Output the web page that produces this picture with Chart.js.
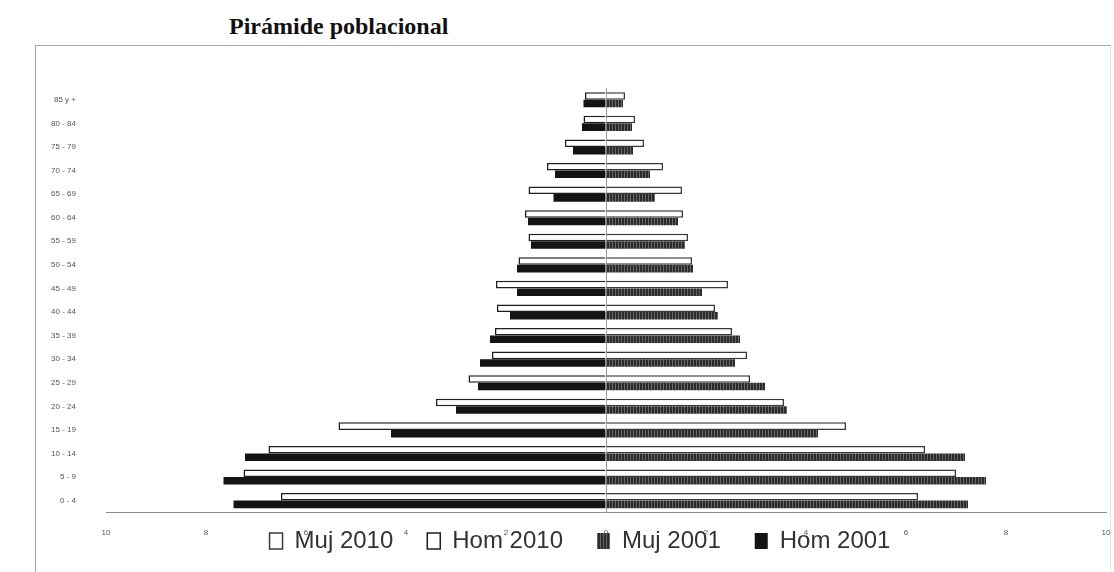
<!DOCTYPE html>
<html lang="es">
<head>
<meta charset="utf-8">
<title>Pirámide poblacional</title>
<script src="https://cdn.jsdelivr.net/npm/chart.js@4.4.1/dist/chart.umd.min.js"></script>
<style>
    html, body { margin: 0; padding: 0; background: #fff; }
    .page { position: relative; width: 1114px; height: 572px; overflow: hidden; }
    .frame {
        position: absolute; left: 35px; top: 45px; width: 1074px; height: 540px;
        border-left: 1px solid #a8a8a8; border-top: 1px solid #a8a8a8; border-right: 1px solid #e4e4e4;
    }
    .title {
        position: absolute; left: 229px; top: 13px;
        font: bold 24px "Liberation Serif", serif; color: #111;
    }
    #pyramidChart { position: absolute; left: 0; top: 0; }
</style>
</head>
<body>
<div class="page">
    <div class="frame"></div>
    <div class="title">Pirámide poblacional</div>
    <canvas id="pyramidChart" width="1114" height="572"></canvas>
</div>

<script>
// === DATOS (porcentaje de población por grupo de edad) ===
const grupos = ["0 - 4", "5 - 9", "10 - 14", "15 - 19", "20 - 24", "25 - 29", "30 - 34", "35 - 39", "40 - 44",
                "45 - 49", "50 - 54", "55 - 59", "60 - 64", "65 - 69", "70 - 74", "75 - 79", "80 - 84", "85 y +"];

// hombres van en negativo (lado izquierdo)
const hom2010 = [-6.5, -7.25, -6.75, -5.35, -3.4, -2.75, -2.28, -2.22, -2.18, -2.2, -1.75, -1.55, -1.62, -1.55, -1.18, -0.82, -0.45, -0.42];
const hom2001 = [-7.45, -7.65, -7.22, -4.3, -3.0, -2.56, -2.52, -2.32, -1.92, -1.78, -1.78, -1.5, -1.56, -1.05, -1.02, -0.66, -0.48, -0.45];
const muj2010 = [6.24, 7.0, 6.38, 4.8, 3.56, 2.88, 2.82, 2.52, 2.18, 2.44, 1.72, 1.64, 1.54, 1.52, 1.14, 0.76, 0.58, 0.38];
const muj2001 = [7.24, 7.6, 7.18, 4.24, 3.62, 3.18, 2.58, 2.68, 2.24, 1.92, 1.74, 1.58, 1.44, 0.98, 0.88, 0.54, 0.52, 0.34];

const ejeMin = -10;
const ejeMax = 10;
const ejePaso = 2;

let chartInstance = null;

document.addEventListener("DOMContentLoaded", () => {
    renderPyramid();
});

// trama rayada para Muj 2001
function makeHatch(ctx) {
    const c = document.createElement("canvas");
    c.width = 3; c.height = 3;
    const g = c.getContext("2d");
    g.fillStyle = "#2c2c2c";
    g.fillRect(0, 0, 3, 3);
    g.fillStyle = "#666";
    g.fillRect(0, 0, 1, 3);
    return ctx.createPattern(c, "repeat");
}

// la leyenda se monta encima de las etiquetas del eje x, como en el original
// (el clip de la leyenda usa top/bottom, por eso se le da alto de sobra)
const legendShift = {
    id: "legendShift",
    afterLayout(chart) {
        const lg = chart.legend;
        if (!lg) return;
        const top = 495;
        const dx = 580 - (lg.left + lg.right) / 2;
        lg.top = top;
        lg.bottom = top + 80;
        lg.left += dx;
        lg.right += dx;
    }
};

function renderPyramid() {
    const canvas = document.getElementById("pyramidChart");
    const ctx = canvas.getContext("2d");
    if (chartInstance) chartInstance.destroy();

    chartInstance = new Chart(ctx, {
        type: "bar",
        data: {
            labels: grupos,
            datasets: [
                {
                    label: "Muj 2010",
                    data: muj2010,
                    stack: "2010",
                    backgroundColor: "#ffffff",
                    borderColor: "#3a3a3a",
                    borderWidth: 1.5
                },
                {
                    label: "Hom 2010",
                    data: hom2010,
                    stack: "2010",
                    backgroundColor: "#ffffff",
                    borderColor: "#1e1e1e",
                    borderWidth: 1.5
                },
                {
                    label: "Muj 2001",
                    data: muj2001,
                    stack: "2001",
                    backgroundColor: makeHatch(ctx),
                    borderColor: "#333",
                    borderWidth: 0
                },
                {
                    label: "Hom 2001",
                    data: hom2001,
                    stack: "2001",
                    backgroundColor: "#141414",
                    borderColor: "#141414",
                    borderWidth: 0
                }
            ]
        },
        options: {
            indexAxis: "y",
            responsive: false,
            animation: false,
            categoryPercentage: 0.64,
            barPercentage: 1.0,
            layout: { padding: { top: 88, left: 20, right: 8, bottom: 17 } },
            plugins: {
                legend: {
                    position: "bottom",
                    align: "center",
                    maxHeight: 1,
                    labels: {
                        font: { family: "'Liberation Sans', Arial, sans-serif", size: 24 },
                        color: "#333",
                        boxWidth: 13,
                        boxHeight: 16,
                        padding: 34
                    }
                },
                tooltip: { enabled: false }
            },
            scales: {
                x: {
                    stacked: true,
                    min: ejeMin,
                    max: ejeMax,
                    afterFit: (scale) => { scale.paddingLeft = 0; scale.paddingRight = 0; },
                    ticks: {
                        stepSize: ejePaso,
                        padding: 16,
                        color: "#555",
                        font: { family: "'Liberation Sans', Arial, sans-serif", size: 8 },
                        callback: (value) => Math.abs(value)
                    },
                    grid: {
                        drawTicks: false,
                        color: (c) => (c.tick && c.tick.value === 0 ? "#9a9a9a" : "transparent")
                    },
                    border: { display: true, color: "#8a8a8a" }
                },
                y: {
                    stacked: true,
                    reverse: true,
                    afterFit: (scale) => { scale.width = 86; },
                    ticks: {
                        padding: 30,
                        color: "#555",
                        font: { family: "'Liberation Sans', Arial, sans-serif", size: 8 }
                    },
                    grid: { display: false, drawTicks: false },
                    border: { display: false }
                }
            }
        },
        plugins: [legendShift]
    });
}
</script>
</body>
</html>
